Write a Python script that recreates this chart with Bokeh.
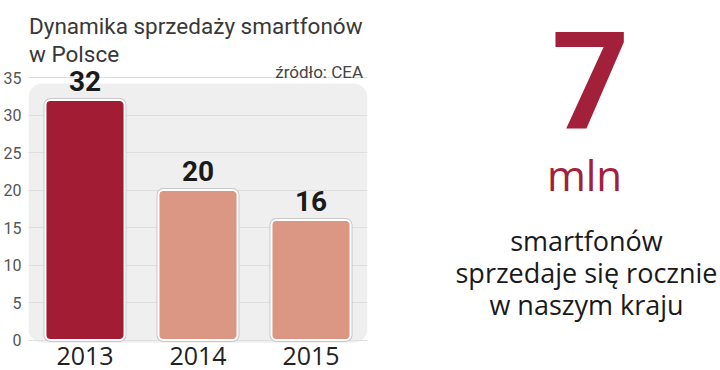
from bokeh.plotting import figure
from bokeh.layouts import row
from bokeh.models import FactorRange, Range1d, FixedTicker, BoxAnnotation, ColumnDataSource
from bokeh.core.properties import value
from bokeh.embed import file_html
from bokeh.resources import INLINE

# ---- data ----
years = ["2013", "2014", "2015"]
sales = [32, 20, 16]
bar_colors = ["#a21c33", "#dc9784", "#dc9784"]
value_labels = ["32", "20", "16"]
y_ticks = [0, 5, 10, 15, 20, 25, 30, 35]
title_lines = ["Dynamika sprzedaży smartfonów", "w Polsce"]
source_note = "źródło: CEA"
big_number = "7"
big_unit = "mln"
side_lines = ["smartfonów", "sprzedaje się rocznie", "w naszym kraju"]

# ---- layout constants (pixels) ----
H = 370
LW = 368
RW = 720 - LW
Y0_PX, Y35_PX = 339.5, 77.0          # pixel rows of value 0 and 35
PX = (Y0_PX - Y35_PX) / 35.0

def fy(px):
    """pixel row (from top) -> data value on the left chart"""
    return (Y0_PX - px) / PX

src = ColumnDataSource(dict(x=years, top=sales, color=bar_colors, lab=value_labels))

p = figure(width=LW, height=H, output_backend="svg", toolbar_location=None,
           x_range=FactorRange(*years, range_padding=0),
           y_range=Range1d(fy(H), fy(0)),
           min_border_left=26, min_border_right=1,
           min_border_top=0, min_border_bottom=0)
p.outline_line_color = None
p.background_fill_color = "white"
p.border_fill_color = "white"
p.xaxis.visible = False

# gray rounded background panel
bg = BoxAnnotation(top=34.2, bottom=-0.35, fill_color="#efefef", fill_alpha=1, line_alpha=0,
                   border_radius=14, level="image")
p.add_layout(bg)

p.xgrid.grid_line_color = None
p.ygrid.grid_line_color = "#dedede"
p.ygrid.grid_line_width = 1
p.ygrid.bounds = (1, 34)
p.ygrid.ticker = FixedTicker(ticks=y_ticks)

# bars: faint gray outer edge then white-edged bar
p.vbar(x="x", top="top", bottom=0, width=0.7, source=src, fill_color="color",
       line_color="#c8c8c8", line_width=4, border_radius=5)
p.vbar(x="x", top="top", bottom=0, width=0.7, source=src, fill_color="color",
       line_color="white", line_width=2, border_radius=5)

p.text(x="x", y="top", text="lab", source=src, text_align="center",
       text_baseline="middle", y_offset=-19,
       text_font=value("Roboto"), text_font_style="bold",
       text_font_size="28px", text_color="#1a1a1a")

# category labels under the bars
p.text(x=years, y=[fy(355)] * len(years), text=years, text_align="center",
       text_baseline="middle", text_font=value("Open Sans"),
       text_font_size="25px", text_color="#222222")

# title & source
p.text(x=[years[0], years[0]], y=[fy(25), fy(53)], text=title_lines,
       x_offset=-56, text_align="left", text_baseline="middle",
       text_font=value("Roboto"), text_font_size="22.5px", text_color="#383838")
p.text(x=[years[-1]], y=[fy(71)], text=[source_note], x_offset=52,
       text_align="right", text_baseline="middle",
       text_font=value("Roboto"), text_font_size="17px", text_color="#444444")

# y axis
p.yaxis.ticker = FixedTicker(ticks=y_ticks)
p.yaxis.axis_line_color = None
p.yaxis.major_tick_line_color = None
p.yaxis.major_tick_out = 0
p.yaxis.major_tick_in = 0
p.yaxis.minor_tick_line_color = None
p.yaxis.major_label_text_font = "Roboto"
p.yaxis.major_label_text_font_size = "16px"
p.yaxis.major_label_text_color = "#555555"
p.yaxis.major_label_standoff = 7

# ---- right panel ----
q = figure(width=RW, height=H, output_backend="svg", toolbar_location=None,
           x_range=Range1d(0, RW), y_range=Range1d(H, 0),
           min_border=0)
q.axis.visible = False
q.grid.visible = False
q.outline_line_color = None
q.background_fill_color = "white"
q.border_fill_color = "white"

q.text(x=[222], y=[80], text=[big_number], text_align="center", text_baseline="middle",
       text_font=value("Roboto"), text_font_style="bold", text_font_size="136px",
       text_color="#a3203a")
q.text(x=[216], y=[174], text=[big_unit], text_align="center", text_baseline="middle",
       text_font=value("Open Sans"), text_font_size="42px", text_color="#a3203a")
q.text(x=[218] * 3, y=[240, 272, 304], text=side_lines, text_align="center",
       text_baseline="middle", text_font=value("Open Sans"), text_font_size="27px",
       text_color="#1a1a1a")

layout = row(p, q)
open("out.html", "w").write(file_html(layout, INLINE))
